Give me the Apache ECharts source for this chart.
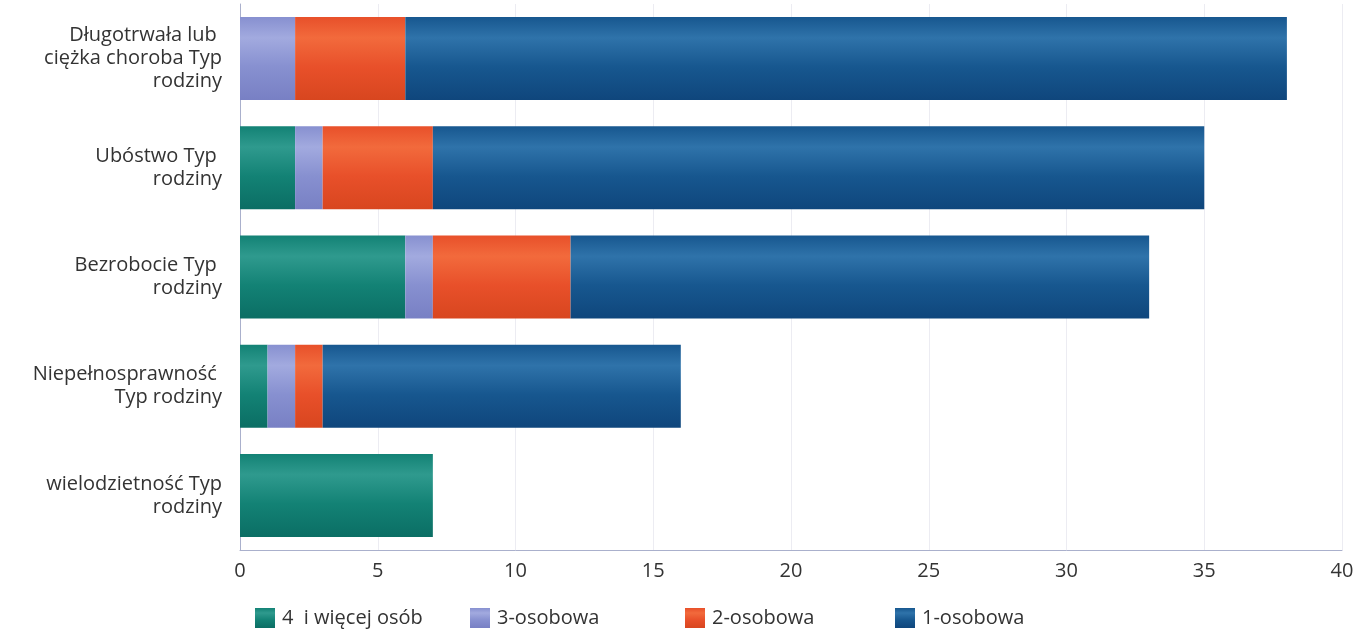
<!DOCTYPE html>
<html>
<head>
<meta charset="utf-8">
<script src="https://cdn.jsdelivr.net/npm/echarts@6/dist/echarts.min.js"></script>
<style>
html,body{margin:0;padding:0;background:#fff;}
#chart{width:1370px;height:632px;}
</style>
</head>
<body>
<div id="chart"></div>
<script>
const categories = [
  "Długotrwała lub \nciężka choroba Typ\nrodziny",
  "Ubóstwo Typ \nrodziny",
  "Bezrobocie Typ \nrodziny",
  "Niepełnosprawność \nTyp rodziny",
  "wielodzietność Typ\nrodziny"
];
const seriesNames = ["4  i więcej osób", "3-osobowa", "2-osobowa", "1-osobowa"];
const fourPlus = [0, 2, 6, 1, 7];
const three    = [2, 1, 1, 1, 0];
const two      = [4, 4, 5, 1, 0];
const one      = [32, 28, 21, 13, 0];
const xTicks = [0, 5, 10, 15, 20, 25, 30, 35, 40];

const values = [fourPlus, three, two, one];
const palettes = [
  ["#2f9a8e", "#138275", "#0b6e64"],
  ["#a2aadf", "#8790d0", "#7880c4"],
  ["#f26a3c", "#e8502a", "#d8461f"],
  ["#2f73aa", "#17578f", "#0f467c"]
];
const FONT = "'Open Sans', 'DejaVu Sans', sans-serif";

function grad(p) {
  return new echarts.graphic.LinearGradient(0, 0, 0, 1, [
    {offset: 0, color: p[1]},
    {offset: 0.25, color: p[0]},
    {offset: 0.6, color: p[1]},
    {offset: 1, color: p[2]}
  ]);
}

const legendLefts = [250, 465, 680, 890];
const chart = echarts.init(document.getElementById('chart'), null, {renderer: 'canvas'});
chart.setOption({
  animation: false,
  backgroundColor: '#ffffff',
  textStyle: {fontFamily: FONT},
  grid: {left: 240, right: 28, top: 4, bottom: 82, containLabel: false},
  legend: seriesNames.map((n, i) => ({
    data: [n],
    left: legendLefts[i],
    top: 603,
    itemWidth: 20,
    itemHeight: 20,
    itemGap: 0,
    icon: 'rect',
    textStyle: {fontSize: 20, color: '#333', fontFamily: FONT, padding: [0, 0, 0, 2]}
  })),
  xAxis: {
    type: 'value',
    min: xTicks[0],
    max: xTicks[xTicks.length - 1],
    interval: 5,
    axisLine: {show: true, lineStyle: {color: '#aab0cc', width: 1}},
    axisTick: {show: false},
    axisLabel: {fontSize: 20, color: '#333', margin: 11, fontFamily: FONT},
    splitLine: {show: true, lineStyle: {color: '#ececf2', width: 1}}
  },
  yAxis: {
    type: 'category',
    inverse: true,
    data: categories,
    axisLine: {show: true, lineStyle: {color: '#aab0cc', width: 1}},
    axisTick: {show: false},
    axisLabel: {fontSize: 20, color: '#333', margin: 18, lineHeight: 23, align: 'right', fontFamily: FONT}
  },
  series: seriesNames.map((n, i) => ({
    name: n,
    type: 'bar',
    stack: 'total',
    barCategoryGap: '24%',
    data: values[i],
    itemStyle: {color: grad(palettes[i])},
  }))
});
</script>
</body>
</html>
